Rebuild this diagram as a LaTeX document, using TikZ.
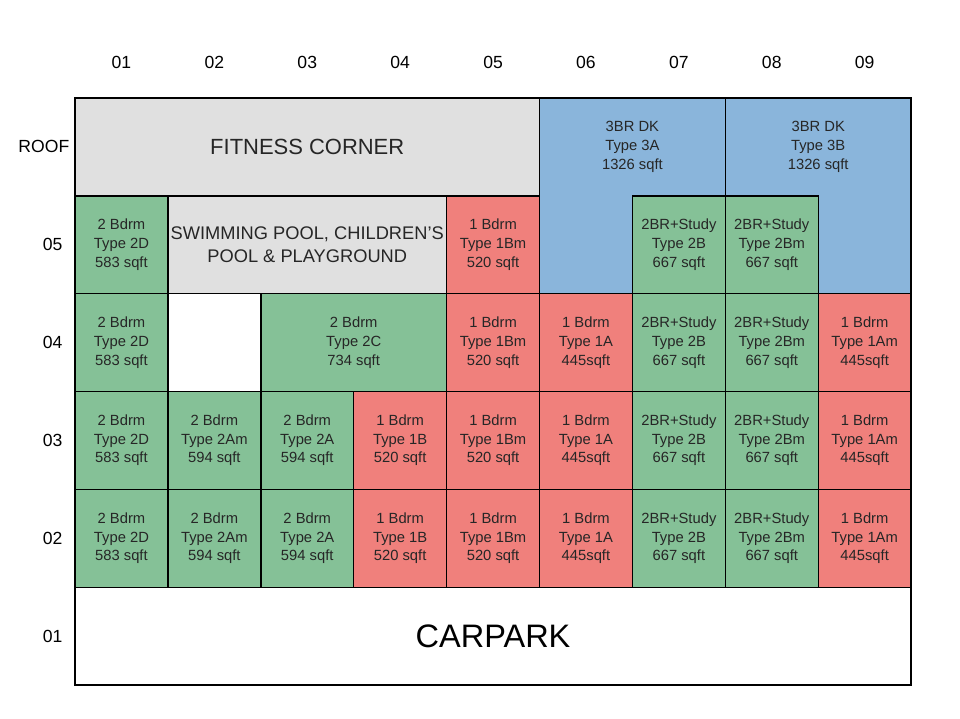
\documentclass[tikz,border=0pt]{standalone}
\usepackage{fontspec}
\setmainfont{Liberation Sans}
\usetikzlibrary{positioning}
\definecolor{unitgreen}{HTML}{85C197}
\definecolor{unitred}{HTML}{F0807C}
\definecolor{suiteblue}{HTML}{8AB5DB}
\definecolor{commongrey}{HTML}{E0E0E0}
\tikzstyle{unit} = [rectangle, draw=black, line width=0.8pt, minimum width=1.858cm, minimum height=1.957cm, inner sep=0pt, align=center, text=black!85, font=\fontsize{8.4}{10.6}\selectfont]
\tikzstyle{twobed} = [unit, fill=unitgreen]
\tikzstyle{onebed} = [unit, fill=unitred]
\tikzstyle{common} = [unit, fill=commongrey]
\tikzstyle{suite} = [draw=black, line width=0.8pt, fill=suiteblue]
\tikzstyle{suitetext} = [align=center, text=black!85, font=\fontsize{8.4}{10.6}\selectfont]
\tikzstyle{floorlabel} = [font=\fontsize{10}{12}\selectfont]

\begin{document}
\begin{tikzpicture}

\useasboundingbox (0,0) rectangle (19.2,-14.38);

\begin{scope}[shift={(1.5,-1.96)}, x=1.858cm, y=-1.957cm]

% Headers
\node (h01) [floorlabel] at (0.5,-0.36) {01};
\node (h02) [floorlabel] at (1.5,-0.36) {02};
\node (h03) [floorlabel] at (2.5,-0.36) {03};
\node (h04) [floorlabel] at (3.5,-0.36) {04};
\node (h05) [floorlabel] at (4.5,-0.36) {05};
\node (h06) [floorlabel] at (5.5,-0.36) {06};
\node (h07) [floorlabel] at (6.5,-0.36) {07};
\node (h08) [floorlabel] at (7.5,-0.36) {08};
\node (h09) [floorlabel] at (8.5,-0.36) {09};
\node (roof) [floorlabel] at (-0.335,0.5) {ROOF};
\node (lv05) [floorlabel] at (-0.24,1.5) {05};
\node (lv04) [floorlabel] at (-0.24,2.5) {04};
\node (lv03) [floorlabel] at (-0.24,3.5) {03};
\node (lv02) [floorlabel] at (-0.24,4.5) {02};
\node (lv01) [floorlabel] at (-0.24,5.5) {01};

% Penthouses
\draw [suite] (5,0) -- (7,0) -- (7,1) -- (6,1) -- (6,2) -- (5,2) -- cycle;
\draw [suite] (7,0) -- (9,0) -- (9,2) -- (8,2) -- (8,1) -- (7,1) -- cycle;
\node (type3a) [suitetext] at (6,0.5) {3BR DK\\Type 3A\\1326 sqft};
\node (type3b) [suitetext] at (8,0.5) {3BR DK\\Type 3B\\1326 sqft};

% Roof
\node (fitness) [common, minimum width=9.29cm, font=\fontsize{12.5}{15}\selectfont] at (2.5,0.5) {FITNESS CORNER};

% Level 05
\node (r05c01) [twobed] at (0.5,1.5) {2 Bdrm\\Type 2D\\583 sqft};
\node (pool) [common, minimum width=5.574cm, font=\fontsize{10.4}{13}\selectfont] at (2.5,1.5) {SWIMMING POOL, CHILDREN’S\\POOL \& PLAYGROUND};
\node (r05c05) [onebed] at (4.5,1.5) {1 Bdrm\\Type 1Bm\\520 sqft};
\node (r05c07) [twobed] at (6.5,1.5) {2BR+Study\\Type 2B\\667 sqft};
\node (r05c08) [twobed] at (7.5,1.5) {2BR+Study\\Type 2Bm\\667 sqft};

% Level 04
\node (r04c01) [twobed] at (0.5,2.5) {2 Bdrm\\Type 2D\\583 sqft};
\node (r04c02) [unit] at (1.5,2.5) {};
\node (r04c03) [twobed, minimum width=3.716cm] at (3,2.5) {2 Bdrm\\Type 2C\\734 sqft};
\node (r04c05) [onebed] at (4.5,2.5) {1 Bdrm\\Type 1Bm\\520 sqft};
\node (r04c06) [onebed] at (5.5,2.5) {1 Bdrm\\Type 1A\\445sqft};
\node (r04c07) [twobed] at (6.5,2.5) {2BR+Study\\Type 2B\\667 sqft};
\node (r04c08) [twobed] at (7.5,2.5) {2BR+Study\\Type 2Bm\\667 sqft};
\node (r04c09) [onebed] at (8.5,2.5) {1 Bdrm\\Type 1Am\\445sqft};

% Level 03
\node (r03c01) [twobed] at (0.5,3.5) {2 Bdrm\\Type 2D\\583 sqft};
\node (r03c02) [twobed] at (1.5,3.5) {2 Bdrm\\Type 2Am\\594 sqft};
\node (r03c03) [twobed] at (2.5,3.5) {2 Bdrm\\Type 2A\\594 sqft};
\node (r03c04) [onebed] at (3.5,3.5) {1 Bdrm\\Type 1B\\520 sqft};
\node (r03c05) [onebed] at (4.5,3.5) {1 Bdrm\\Type 1Bm\\520 sqft};
\node (r03c06) [onebed] at (5.5,3.5) {1 Bdrm\\Type 1A\\445sqft};
\node (r03c07) [twobed] at (6.5,3.5) {2BR+Study\\Type 2B\\667 sqft};
\node (r03c08) [twobed] at (7.5,3.5) {2BR+Study\\Type 2Bm\\667 sqft};
\node (r03c09) [onebed] at (8.5,3.5) {1 Bdrm\\Type 1Am\\445sqft};

% Level 02
\node (r02c01) [twobed] at (0.5,4.5) {2 Bdrm\\Type 2D\\583 sqft};
\node (r02c02) [twobed] at (1.5,4.5) {2 Bdrm\\Type 2Am\\594 sqft};
\node (r02c03) [twobed] at (2.5,4.5) {2 Bdrm\\Type 2A\\594 sqft};
\node (r02c04) [onebed] at (3.5,4.5) {1 Bdrm\\Type 1B\\520 sqft};
\node (r02c05) [onebed] at (4.5,4.5) {1 Bdrm\\Type 1Bm\\520 sqft};
\node (r02c06) [onebed] at (5.5,4.5) {1 Bdrm\\Type 1A\\445sqft};
\node (r02c07) [twobed] at (6.5,4.5) {2BR+Study\\Type 2B\\667 sqft};
\node (r02c08) [twobed] at (7.5,4.5) {2BR+Study\\Type 2Bm\\667 sqft};
\node (r02c09) [onebed] at (8.5,4.5) {1 Bdrm\\Type 1Am\\445sqft};

% Level 01
\node (carpark) [unit, minimum width=16.722cm, text=black, font=\fontsize{18.5}{22}\selectfont] at (4.5,5.5) {CARPARK};

\end{scope}

\end{tikzpicture}
\end{document}
